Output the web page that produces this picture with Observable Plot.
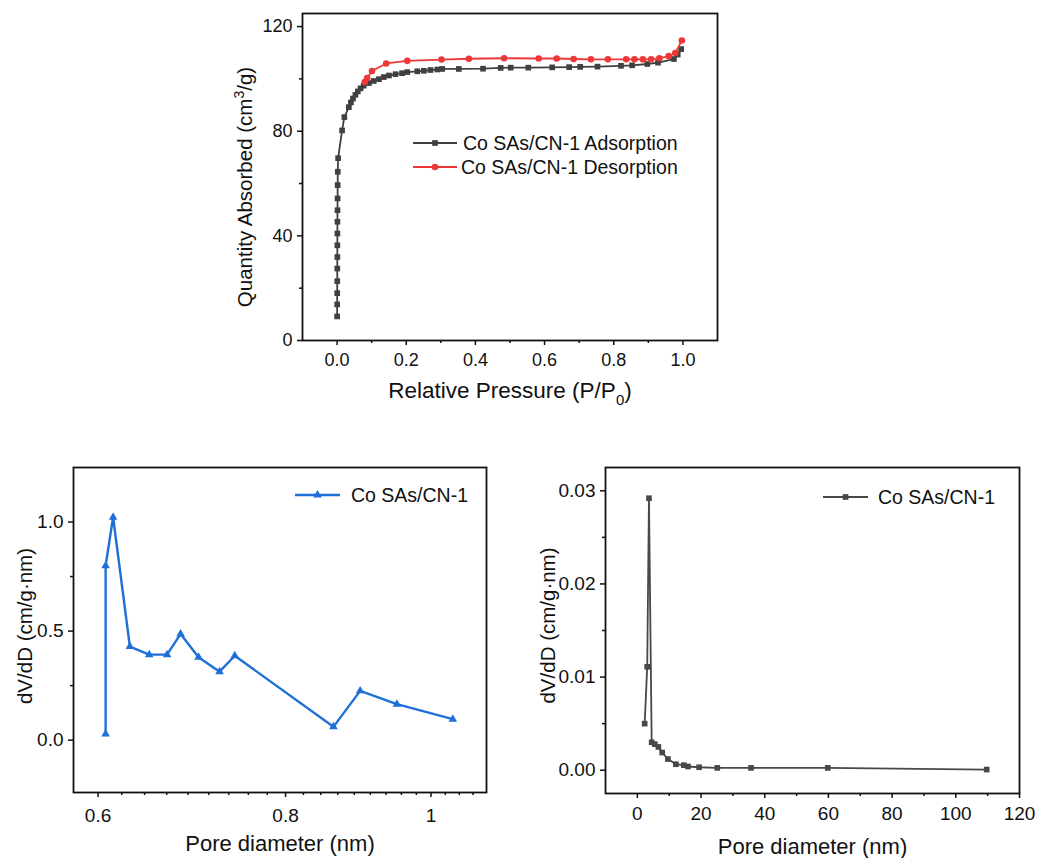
<!DOCTYPE html>
<html>
<head>
<meta charset="utf-8">
<script src="https://cdn.jsdelivr.net/npm/d3@7"></script>
<script src="https://cdn.jsdelivr.net/npm/@observablehq/plot@0.6"></script>
<style>
  html, body { margin: 0; padding: 0; background: #fff; }
  #wrap { position: relative; width: 1038px; height: 858px; background: #fff; overflow: hidden; }
</style>
</head>
<body>
<div id="wrap"></div>
<script>
// ---------------- DATA ----------------
// Top panel: N2 isotherm
const adsP = [0.0002,0.0003,0.0004,0.0005,0.0006,0.0007,0.0008,0.0009,0.0010,0.0012,0.0014,0.0017,0.0020,0.0030,
              0.0145,0.021,0.034,0.040,0.046,0.053,0.060,0.068,0.077,0.092,0.106,0.121,0.135,0.150,0.169,0.188,0.203,
              0.232,0.251,0.270,0.290,0.304,0.352,0.422,0.473,0.502,0.553,0.622,0.671,0.703,0.753,0.821,0.853,0.897,
              0.928,0.974,0.985,0.995];
const adsQ = [9.2,13.8,18.1,22.7,27.5,31.9,36.4,40.9,45.4,49.8,54.3,59.4,64.5,69.7,
              80.3,85.4,89.2,91.0,92.5,93.9,95.2,96.4,97.4,98.4,99.2,99.9,100.7,101.3,101.8,102.2,102.6,
              102.9,103.1,103.4,103.6,103.8,103.8,103.9,104.2,104.3,104.3,104.4,104.5,104.6,104.7,105.0,105.2,105.7,
              106.2,107.6,109.3,111.4];
const desP = [0.997,0.978,0.959,0.932,0.908,0.884,0.860,0.836,0.783,0.734,0.684,0.635,0.583,0.483,0.381,0.302,0.203,0.142,0.101,0.087,0.080];
const desQ = [114.7,109.9,108.7,107.9,107.5,107.5,107.5,107.5,107.5,107.5,107.6,107.8,107.8,107.9,107.7,107.4,106.9,105.9,103.0,100.3,98.8];

// Bottom-left: micropore distribution
const microD = [0.607,0.607,0.614,0.630,0.649,0.667,0.681,0.700,0.723,0.740,0.861,0.897,0.949,1.034];
const microV = [0.028,0.800,1.022,0.429,0.392,0.392,0.487,0.380,0.314,0.387,0.061,0.226,0.165,0.096];

// Bottom-right: mesopore distribution
const mesoD = [2.3,3.1,3.65,4.5,5.5,6.6,7.8,9.6,12.1,14.6,15.9,19.4,25.1,35.7,59.8,109.7];
const mesoV = [0.0050,0.0111,0.0292,0.0030,0.0028,0.0025,0.0019,0.0012,0.00064,0.00054,0.00040,0.00032,0.00025,0.00025,0.00025,0.00007];

// Tick values
const topXMajor = [0, 0.2, 0.4, 0.6, 0.8, 1.0];
const topXMinor = [0.1, 0.3, 0.5, 0.7, 0.9];
const topYMajor = [0, 40, 80, 120];
const topYMinor = [20, 60, 100];
const microXMajor = [0.6, 0.8, 1];
const microXMinor = [0.6222,0.6444,0.6667,0.6889,0.7111,0.7333,0.7556,0.7778,
                     0.8222,0.8444,0.8667,0.8889,0.9111,0.9333,0.9556,0.9778,
                     1.0222,1.0444,1.0667];
const microYMajor = [0, 0.5, 1.0];
const microYMinor = [0.25, 0.75];
const mesoXMajor = [0, 20, 40, 60, 80, 100, 120];
const mesoXMinor = [10, 30, 50, 70, 90, 110];
const mesoYMajor = [0, 0.01, 0.02, 0.03];
const mesoYMinor = [0.005, 0.015, 0.025];

// Labels
const topXTitle = "Relative Pressure (P/P0)";
const topYTitle = "Quantity Absorbed (cm3/g)";
const poreXTitle = "Pore diameter (nm)";
const poreYTitle = "dV/dD (cm/g\u00B7nm)";
const topLegend = ["Co SAs/CN-1 Adsorption", "Co SAs/CN-1 Desorption"];
const microLegend = ["Co SAs/CN-1"];
const mesoLegend = ["Co SAs/CN-1"];

// ---------------- STYLE ----------------
const FONT = '"Liberation Sans", Arial, Helvetica, sans-serif';
const ADS = "#404040", DES = "#ee3838", BLUE = "#1f6fd8", MESO = "#484848";
const wrap = document.getElementById("wrap");

const adsTable = adsP.map((p, i) => ({p, q: adsQ[i]}));
const desTable = desP.map((p, i) => ({p, q: desQ[i]}));
const microTable = microD.map((d, i) => ({d, v: microV[i]}));
const mesoTable = mesoD.map((d, i) => ({d, v: mesoV[i]}));

function axes(xMajor, xMinor, yMajor, yMinor, xFmt, yFmt, xPad, fs) {
  return [
    Plot.axisX({ticks: xMinor, tickSize: 3, tickFormat: () => "", strokeWidth: 1.5, label: null}),
    Plot.axisX({ticks: xMajor, tickSize: 5, tickPadding: xPad, tickFormat: xFmt, strokeWidth: 1.5, fontSize: fs, label: null}),
    Plot.axisY({ticks: yMinor, tickSize: 3, tickFormat: () => "", strokeWidth: 1.5, label: null}),
    Plot.axisY({ticks: yMajor, tickSize: 5, tickPadding: 5, tickFormat: yFmt, strokeWidth: 1.5, fontSize: fs, label: null})
  ];
}

function place(svg, left, top) {
  svg.style.position = "absolute";
  svg.style.left = left + "px";
  svg.style.top = top + "px";
  svg.style.overflow = "visible";
  wrap.appendChild(svg);
}

function rich(svg, plain, parts) {
  d3.select(svg).selectAll("text").filter(function () { return this.textContent === plain; }).each(function () {
    const t = d3.select(this);
    t.text(null);
    for (const p of parts) {
      const ts = t.append("tspan").text(p.t);
      if (p.dy) ts.attr("dy", p.dy);
      if (p.fs) ts.attr("font-size", p.fs);
    }
  });
}

function addLegend(svg, items) {
  const g = d3.select(svg).append("g").attr("font-family", FONT).attr("font-size", 19.5).attr("text-anchor", "start");
  for (const it of items) {
    g.append("line").attr("x1", it.x0).attr("x2", it.x1).attr("y1", it.y).attr("y2", it.y)
      .attr("stroke", it.color).attr("stroke-width", it.sw);
    g.append("path").attr("d", d3.symbol(it.symbol, Math.PI * it.r * it.r)())
      .attr("transform", `translate(${(it.x0 + it.x1) / 2},${it.y})`).attr("fill", it.color);
    g.append("text").attr("x", it.tx).attr("y", it.y).attr("dy", "0.35em").attr("text-anchor", "start")
      .attr("fill", "#111").text(it.label);
  }
}

// ---------------- TOP PANEL ----------------
const topPlot = Plot.plot({
  width: 560, height: 410,
  marginLeft: 112, marginRight: 33, marginTop: 13, marginBottom: 70,
  style: {fontFamily: FONT, fontSize: "18px", color: "#111", background: "transparent"},
  x: {domain: [-0.1, 1.1], label: null},
  y: {domain: [0, 125], label: null},
  marks: [
    Plot.line(adsTable, {x: "p", y: "q", stroke: ADS, strokeWidth: 1.8}),
    Plot.dot(adsTable, {x: "p", y: "q", symbol: "square", r: 3.2, fill: ADS}),
    Plot.line(desTable, {x: "p", y: "q", stroke: DES, strokeWidth: 1.8}),
    Plot.dot(desTable, {x: "p", y: "q", symbol: "circle", r: 3.3, fill: DES}),
    Plot.frame({stroke: "#111", strokeWidth: 1.8}),
    ...axes(topXMajor, topXMinor, topYMajor, topYMinor, d => d.toFixed(1), d3.format("d"), 8, 18),
    Plot.text([topXTitle], {text: d => d, frameAnchor: "bottom", dy: 57, lineAnchor: "bottom", textAnchor: "middle", fontSize: 22.5}),
    Plot.text([topYTitle], {text: d => d, frameAnchor: "left", dx: -57, dy: 10, rotate: -90, lineAnchor: "middle", textAnchor: "middle", fontSize: 20.5})
  ]
});
place(topPlot, 190, 0);
rich(topPlot, topXTitle, [{t: "Relative Pressure (P/P"}, {t: "0", dy: 7, fs: 15}, {t: ")", dy: -7}]);
rich(topPlot, topYTitle, [{t: "Quantity Absorbed (cm"}, {t: "3", dy: -8, fs: 14}, {t: "/g)", dy: 8}]);
addLegend(topPlot, [
  {x0: 223, x1: 267, y: 143, tx: 273, color: ADS, sw: 1.8, symbol: d3.symbolSquare, r: 3.2, label: topLegend[0]},
  {x0: 223, x1: 267, y: 167, tx: 271, color: DES, sw: 1.8, symbol: d3.symbolCircle, r: 3.3, label: topLegend[1]}
]);

// ---------------- BOTTOM LEFT ----------------
const microPlot = Plot.plot({
  width: 500, height: 418,
  marginLeft: 73, marginRight: 14, marginTop: 27, marginBottom: 66,
  style: {fontFamily: FONT, fontSize: "19px", color: "#111", background: "transparent"},
  x: {type: "log", domain: [0.5778, 1.0889], label: null},
  y: {domain: [-0.24, 1.25], label: null},
  marks: [
    Plot.line(microTable, {x: "d", y: "v", stroke: BLUE, strokeWidth: 2.4}),
    Plot.dot(microTable, {x: "d", y: "v", symbol: "triangle", r: 3.2, fill: BLUE}),
    Plot.frame({stroke: "#111", strokeWidth: 1.8}),
    ...axes(microXMajor, microXMinor, microYMajor, microYMinor, d3.format("~g"), d => d.toFixed(1), 11, 19),
    Plot.text([poreXTitle], {text: d => d, frameAnchor: "bottom", dy: 58, lineAnchor: "bottom", textAnchor: "middle", fontSize: 22}),
    Plot.text([poreYTitle], {text: d => d, frameAnchor: "left", dx: -48, dy: -4, rotate: -90, lineAnchor: "middle", textAnchor: "middle", fontSize: 20.5})
  ]
});
place(microPlot, 0, 440);
addLegend(microPlot, [
  {x0: 295, x1: 340, y: 55, tx: 351, color: BLUE, sw: 2.4, symbol: d3.symbolTriangle, r: 3.2, label: microLegend[0]}
]);

// ---------------- BOTTOM RIGHT ----------------
const mesoPlot = Plot.plot({
  width: 528, height: 418,
  marginLeft: 95, marginRight: 19, marginTop: 27, marginBottom: 65,
  style: {fontFamily: FONT, fontSize: "19px", color: "#111", background: "transparent"},
  x: {domain: [-10, 120], label: null},
  y: {domain: [-0.0025, 0.0325], label: null},
  marks: [
    Plot.line(mesoTable, {x: "d", y: "v", stroke: MESO, strokeWidth: 1.8}),
    Plot.dot(mesoTable, {x: "d", y: "v", symbol: "square", r: 3.2, fill: MESO}),
    Plot.frame({stroke: "#111", strokeWidth: 1.8}),
    ...axes(mesoXMajor, mesoXMinor, mesoYMajor, mesoYMinor, d3.format("d"), d => d.toFixed(2), 8, 19),
    Plot.text([poreXTitle], {text: d => d, frameAnchor: "bottom", dy: 60, lineAnchor: "bottom", textAnchor: "middle", fontSize: 22}),
    Plot.text([poreYTitle], {text: d => d, frameAnchor: "left", dx: -57, dy: -5, rotate: -90, lineAnchor: "middle", textAnchor: "middle", fontSize: 20.5})
  ]
});
place(mesoPlot, 510, 440);
addLegend(mesoPlot, [
  {x0: 313, x1: 358, y: 57, tx: 368, color: MESO, sw: 1.8, symbol: d3.symbolSquare, r: 3.2, label: mesoLegend[0]}
]);
</script>
</body>
</html>
